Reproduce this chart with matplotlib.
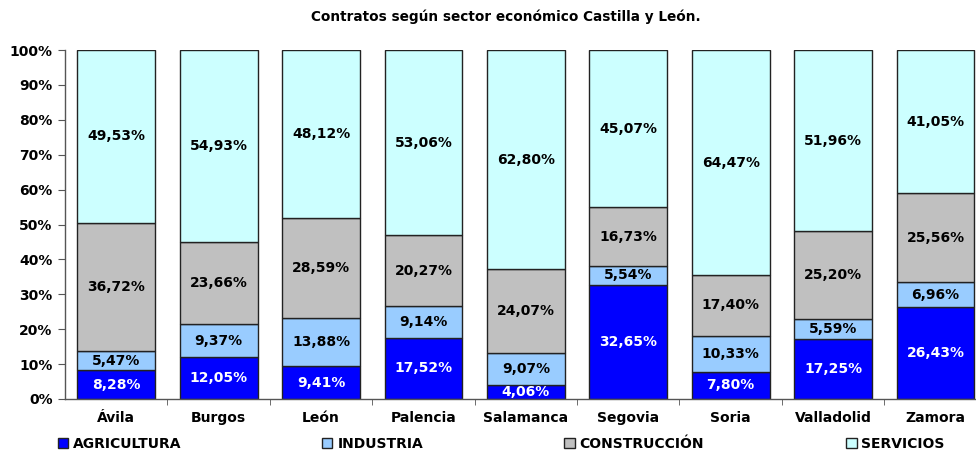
import matplotlib.pyplot as plt
import numpy as np

# Contratos por sector económico, provincias de Castilla y León (% sobre el total)
provincias = ['Ávila', 'Burgos', 'León', 'Palencia', 'Salamanca',
              'Segovia', 'Soria', 'Valladolid', 'Zamora']
agricultura = [8.28, 12.05, 9.41, 17.52, 4.06, 32.65, 7.80, 17.25, 26.43]
industria = [5.47, 9.37, 13.88, 9.14, 9.07, 5.54, 10.33, 5.59, 6.96]
construccion = [36.72, 23.66, 28.59, 20.27, 24.07, 16.73, 17.40, 25.20, 25.56]
servicios = [49.53, 54.93, 48.12, 53.06, 62.80, 45.07, 64.47, 51.96, 41.05]

sectores = ['AGRICULTURA', 'INDUSTRIA', 'CONSTRUCCIÓN', 'SERVICIOS']
colores = ['#0000FF', '#99CCFF', '#C0C0C0', '#CCFFFF']
texto_color = ['white', 'black', 'black', 'black']

plt.rcParams['font.family'] = 'DejaVu Sans'
plt.rcParams['font.weight'] = 'bold'

fig = plt.figure(figsize=(9.76, 4.51), dpi=100)
ax = fig.add_axes([0.0666, 0.1153, 0.9444, 0.7738])

x = np.arange(len(provincias))
base = np.zeros(len(provincias))
handles = []
for serie, nombre, color, tcol in zip([agricultura, industria, construccion, servicios],
                                      sectores, colores, texto_color):
    vals = np.array(serie)
    bars = ax.bar(x, vals, bottom=base, width=0.76, color=color,
                  edgecolor='#222222', linewidth=1.0, label=nombre)
    handles.append(bars)
    for xi, b, v in zip(x, base, vals):
        ax.text(xi, b + v / 2, f'{v:.2f}%'.replace('.', ','), ha='center', va='center',
                fontsize=10, fontweight='bold', color=tcol)
    base = base + vals

ax.set_xlim(-0.5, len(provincias) - 0.5)
ax.set_ylim(0, 100)
ax.set_yticks(np.arange(0, 101, 10))
ax.set_yticklabels([f'{v}%' for v in range(0, 101, 10)], fontsize=10, fontweight='bold')
ax.set_xticks(x)
ax.set_xticklabels(provincias, fontsize=10, fontweight='bold')
ax.set_xticks(np.arange(0.5, len(provincias) - 0.5, 1), minor=True)
ax.tick_params(axis='x', which='major', length=0, pad=9)
ax.tick_params(axis='x', which='minor', length=4, color='#555555')
ax.tick_params(axis='y', length=5, color='#555555', pad=4)

for side in ['top', 'right']:
    ax.spines[side].set_visible(False)
for side in ['left', 'bottom']:
    ax.spines[side].set_color('#555555')
    ax.spines[side].set_linewidth(1.0)

fig.suptitle('Contratos según sector económico Castilla y León.', x=0.518, y=0.978,
             fontsize=9.8, fontweight='bold')

# one legend entry per slot, spread along the bottom
posiciones_leyenda = [0.0594, 0.330, 0.578, 0.867]
for h, nombre, px in zip(handles, sectores, posiciones_leyenda):
    leg = fig.legend(handles=[h], labels=[nombre], loc='center left',
                     bbox_to_anchor=(px, 0.016), frameon=False, borderpad=0,
                     borderaxespad=0, handlelength=0.75, handleheight=0.75,
                     handletextpad=0.35, prop={'size': 10, 'weight': 'bold'})

fig.savefig('out.png', dpi=100)
